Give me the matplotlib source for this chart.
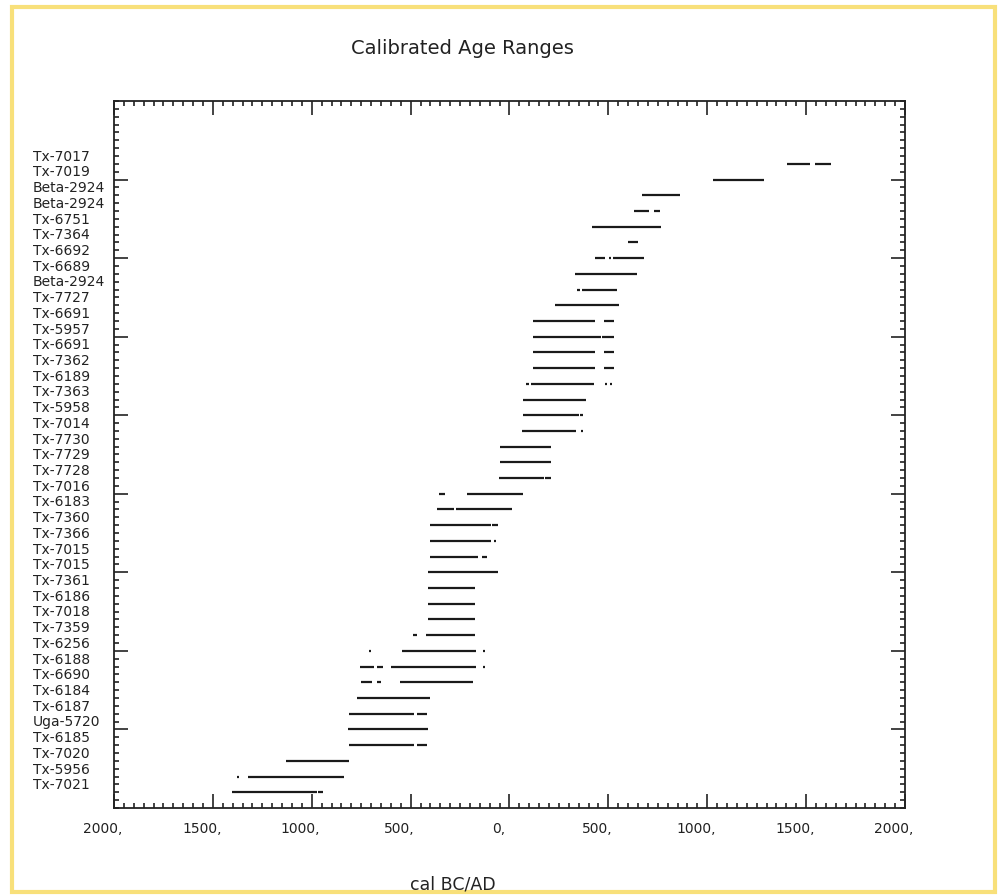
import matplotlib
matplotlib.use("Agg")
import matplotlib.pyplot as plt
import matplotlib.transforms as mtransforms
from matplotlib.patches import Rectangle
import numpy as np

# sample names, top to bottom
samples = ['Tx-7017', 'Tx-7019', 'Beta-2924', 'Beta-2924', 'Tx-6751', 'Tx-7364',
           'Tx-6692', 'Tx-6689', 'Beta-2924', 'Tx-7727', 'Tx-6691', 'Tx-5957',
           'Tx-6691', 'Tx-7362', 'Tx-6189', 'Tx-7363', 'Tx-5958', 'Tx-7014',
           'Tx-7730', 'Tx-7729', 'Tx-7728', 'Tx-7016', 'Tx-6183', 'Tx-7360',
           'Tx-7366', 'Tx-7015', 'Tx-7015', 'Tx-7361', 'Tx-6186', 'Tx-7018',
           'Tx-7359', 'Tx-6256', 'Tx-6188', 'Tx-6690', 'Tx-6184', 'Tx-6187',
           'Uga-5720', 'Tx-6185', 'Tx-7020', 'Tx-5956', 'Tx-7021']

# calibrated ranges (cal BC negative / AD positive), one list per sample
ranges = [
    [(1405, 1520), (1545, 1625)],
    [(1030, 1288)],
    [(672, 864)],
    [(631, 707), (732, 762)],
    [(419, 768)],
    [(601, 652)],
    [(430, 485), (505, 515), (525, 682)],
    [(333, 646)],
    [(343, 359), (369, 545)],
    [(232, 556)],
    [(117, 434), (480, 530)],
    [(117, 465), (470, 530)],
    [(117, 434), (480, 530)],
    [(117, 434), (480, 530)],
    [(81, 101), (111, 429), (483, 492), (506, 518)],
    [(66, 389)],
    [(66, 354), (359, 374)],
    [(61, 338), (364, 374)],
    [(-50, 212)],
    [(-50, 212)],
    [(-55, 172), (182, 212)],
    [(-354, -328), (-217, 66)],
    [(-369, -283), (-268, 15)],
    [(-404, -91), (-86, -60)],
    [(-404, -91), (-76, -66)],
    [(-404, -161), (-141, -116)],
    [(-414, -60)],
    [(-414, -172)],
    [(-414, -172)],
    [(-414, -172)],
    [(-490, -470), (-424, -172)],
    [(-710, -702), (-545, -167), (-134, -126)],
    [(-758, -687), (-672, -641), (-601, -167), (-134, -126)],
    [(-753, -697), (-672, -652), (-556, -182)],
    [(-773, -404)],
    [(-813, -485), (-470, -419)],
    [(-818, -414)],
    [(-813, -485), (-470, -419)],
    [(-1131, -813)],
    [(-1378, -1370), (-1323, -838)],
    [(-1404, -975), (-970, -944)],
]

xticks = [-2000, -1500, -1000, -500, 0, 500, 1000, 1500, 2000]

fig = plt.figure(figsize=(9.99, 8.96), dpi=100)
ax = fig.add_axes([0.1141, 0.0982, 0.7918, 0.7891])

for i, segs in enumerate(ranges):
    for a, b in segs:
        ax.hlines(i, a, b, color='#1a1a1a', lw=1.6)

ax.set_xlim(-2000, 2000)
ax.set_ylim(41, -4)

ax.set_xticks(xticks)
ax.set_xticklabels([f"{abs(v)}," for v in xticks], fontsize=10, color='#222222')
ax.set_xticks(np.arange(-2000, 2001, 50), minor=True)
ax.set_yticks(np.arange(1, 40, 5))
ax.set_yticklabels([])
ax.set_yticks(np.arange(-4, 41.01, 0.5), minor=True)

ax.tick_params(which='both', direction='in', top=True, right=True, color='#222222')
ax.tick_params(which='major', length=10, width=1.2)
ax.tick_params(which='minor', length=3.5, width=1.2)
ax.tick_params(axis='x', which='major', pad=10)
for s in ax.spines.values():
    s.set_linewidth(1.3)
    s.set_color('#222222')

shift = mtransforms.ScaledTranslation(-8 / 72, 0, fig.dpi_scale_trans)
for lbl in ax.get_xticklabels():
    lbl.set_transform(lbl.get_transform() + shift)

# sample names sit a little above their lines
trans = mtransforms.blended_transform_factory(fig.transFigure, ax.transData)
for i, name in enumerate(samples):
    ax.text(33 / 999, i - 0.45, name, transform=trans, ha='left', va='center',
            fontsize=10, color='#222222', clip_on=False)

fig.text(462 / 999, 1 - 48 / 896, 'Calibrated Age Ranges', ha='center', va='center',
         fontsize=14, color='#222222')
fig.text(453 / 999, 1 - 884 / 896, 'cal BC/AD', ha='center', va='center',
         fontsize=12.5, color='#222222')

fig.patches.append(Rectangle((12 / 999, 4 / 896), 983 / 999, 885 / 896,
                             transform=fig.transFigure, fill=False,
                             edgecolor='#f8e07a', lw=3))

fig.savefig('out.png', dpi=100)
